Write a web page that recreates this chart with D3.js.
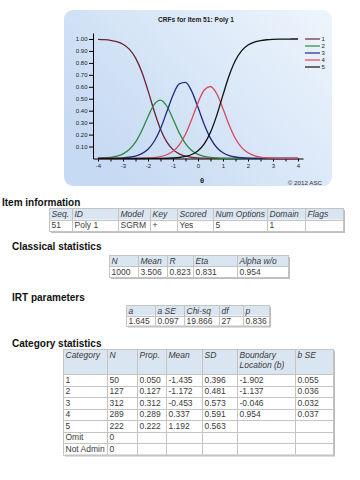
<!DOCTYPE html>
<html>
<head>
<meta charset="utf-8">
<script src="https://cdn.jsdelivr.net/npm/d3@7"></script>
<style>
  body { margin: 0; background: #fff; }
  svg { display: block; font-family: Arial, "Liberation Sans", sans-serif; }
</style>
</head>
<body>
<svg id="chart" width="360" height="480"></svg>
<script>
// ---- chart data ----
var theta = [-4, -3.75, -3.5, -3.25, -3, -2.75, -2.5, -2.25, -2, -1.75, -1.5, -1.25, -1, -0.75, -0.5, -0.25,
             0, 0.25, 0.5, 0.75, 1, 1.25, 1.5, 1.75, 2, 2.25, 2.5, 2.75, 3, 3.25, 3.5, 3.75, 4];
var crf1 = [0.9972, 0.9943, 0.9887, 0.9775, 0.9557, 0.9146, 0.8419, 0.7258, 0.5681, 0.3953, 0.2452, 0.1390, 0.0743, 0.0384, 0.0194, 0.0098,
            0.0049, 0.0024, 0.0012, 0.0006, 0.0003, 0.0001, 0.0001, 0, 0, 0, 0, 0, 0, 0, 0, 0, 0];
var crf2 = [0.0025, 0.0050, 0.0100, 0.0198, 0.0389, 0.0745, 0.1365, 0.2317, 0.3497, 0.4521, 0.4888, 0.4393, 0.3311, 0.2147, 0.1247, 0.0675,
            0.0351, 0.0178, 0.0090, 0.0045, 0.0022, 0.0011, 0.0006, 0.0003, 0.0001, 0, 0, 0, 0, 0, 0, 0, 0];
var crf3 = [0.0003, 0.0006, 0.0013, 0.0026, 0.0052, 0.0104, 0.0206, 0.0405, 0.0779, 0.1442, 0.2491, 0.3883, 0.5297, 0.6244, 0.6365, 0.5616,
            0.4280, 0.2839, 0.1683, 0.0924, 0.0484, 0.0247, 0.0125, 0.0062, 0.0031, 0.0016, 0.0008, 0.0004, 0.0002, 0.0001, 0, 0, 0];
var crf4 = [0, 0, 0.0001, 0.0001, 0.0002, 0.0005, 0.0010, 0.0020, 0.0040, 0.0079, 0.0158, 0.0312, 0.0607, 0.1141, 0.2025, 0.3278,
            0.4672, 0.5734, 0.6022, 0.5414, 0.4170, 0.2781, 0.1654, 0.0909, 0.0477, 0.0244, 0.0123, 0.0061, 0.0031, 0.0015, 0.0008, 0.0004, 0.0002];
var crf5 = [0, 0, 0, 0, 0, 0, 0.0001, 0.0001, 0.0003, 0.0005, 0.0010, 0.0021, 0.0042, 0.0085, 0.0169, 0.0333,
            0.0649, 0.1225, 0.2193, 0.3611, 0.5321, 0.6959, 0.8216, 0.9026, 0.9491, 0.9740, 0.9869, 0.9935, 0.9967, 0.9984, 0.9992, 0.9996, 0.9998];
var categoryNames = ["1", "2", "3", "4", "5"];
var xTicks = [-4, -3.5, -3, -2.5, -2, -1.5, -1, -0.5, 0, 0.5, 1, 1.5, 2, 2.5, 3, 3.5, 4];
var yTicks = [0.1, 0.2, 0.3, 0.4, 0.5, 0.6, 0.7, 0.8, 0.9, 1.0];

// ---- table data ----
var itemHeaders = ["Seq.", "ID", "Model", "Key", "Scored", "Num Options", "Domain", "Flags"];
var itemRow = ["51", "Poly 1", "SGRM", "+", "Yes", "5", "1", ""];
var classicalHeaders = ["N", "Mean", "R", "Eta", "Alpha w/o"];
var classicalRow = ["1000", "3.506", "0.823", "0.831", "0.954"];
var irtHeaders = ["a", "a SE", "Chi-sq", "df", "p"];
var irtRow = ["1.645", "0.097", "19.866", "27", "0.836"];
var catHeaders = ["Category", "N", "Prop.", "Mean", "SD", "Boundary\nLocation (b)", "b SE"];
var catRows = [
  ["1", "50", "0.050", "-1.435", "0.396", "-1.902", "0.055"],
  ["2", "127", "0.127", "-1.172", "0.481", "-1.137", "0.036"],
  ["3", "312", "0.312", "-0.453", "0.573", "-0.046", "0.032"],
  ["4", "289", "0.289", "0.337", "0.591", "0.954", "0.037"],
  ["5", "222", "0.222", "1.192", "0.563", "", ""],
  ["Omit", "0", "", "", "", "", ""],
  ["Not Admin", "0", "", "", "", "", ""]
];

var colors = ["#6e2233", "#2c8a40", "#1f2a7e", "#d8485f", "#111111"];
var series = [crf1, crf2, crf3, crf4, crf5];

var svg = d3.select("#chart");

// panel background
var grad = svg.append("defs").append("linearGradient")
  .attr("id", "panelGrad").attr("x1", "0").attr("y1", "0.6").attr("x2", "1").attr("y2", "0");
grad.append("stop").attr("offset", "0%").attr("stop-color", "#c6daf3");
grad.append("stop").attr("offset", "100%").attr("stop-color", "#eef5fc");
svg.append("rect")
  .attr("x", 64).attr("y", 10).attr("width", 268).attr("height", 176).attr("rx", 9)
  .attr("fill", "url(#panelGrad)");

svg.append("text")
  .attr("x", 196).attr("y", 21.5)
  .attr("text-anchor", "middle")
  .style("font-size", "6.6px").style("font-weight", "bold").style("fill", "#222")
  .text("CRFs for Item 51: Poly 1");

var x = d3.scaleLinear().domain([-4.2, 4.2]).range([93, 303]);
var y = d3.scaleLinear().domain([0, 1.05]).range([158.5, 33]);

var yAxis = svg.append("g")
  .attr("transform", "translate(93,0)")
  .call(d3.axisLeft(y).tickValues(yTicks).tickFormat(d3.format(".2f")).tickSize(4).tickSizeOuter(0).tickPadding(1.5));
var xAxis = svg.append("g")
  .attr("transform", "translate(0,158.5)")
  .call(d3.axisBottom(x).tickValues(xTicks)
    .tickFormat(function(d) { return Number.isInteger(d) ? String(d) : ""; })
    .tickSize(3).tickSizeOuter(0).tickPadding(2));
[xAxis, yAxis].forEach(function(a) {
  a.selectAll("text").style("font-size", "6px").style("fill", "#222").style("font-family", "Arial, 'Liberation Sans', sans-serif");
  a.selectAll("line, path").style("stroke", "#000");
});

// curves
var line = d3.line()
  .x(function(d, i) { return x(theta[i]); })
  .y(function(d) { return y(d); })
  .curve(d3.curveMonotoneX);

svg.selectAll(".crf")
  .data(series)
  .enter().append("path")
  .attr("class", "crf")
  .attr("d", line)
  .attr("fill", "none")
  .attr("stroke", function(d, i) { return colors[i]; })
  .attr("stroke-width", 1.3);

// legend
var legend = svg.selectAll(".legend")
  .data(categoryNames)
  .enter().append("g")
  .attr("class", "legend")
  .attr("transform", function(d, i) { return "translate(305," + (39 + i * 7) + ")"; });
legend.append("line")
  .attr("x1", 0).attr("x2", 15)
  .attr("stroke", function(d, i) { return colors[i]; })
  .attr("stroke-width", 1.2);
legend.append("text")
  .attr("x", 16.5).attr("y", 2.2)
  .style("font-size", "6px").style("fill", "#222")
  .text(function(d) { return d; });

svg.append("text")
  .attr("x", 202).attr("y", 182.5)
  .attr("text-anchor", "middle")
  .style("font-size", "7.5px").style("font-weight", "bold").style("fill", "#222")
  .text("θ");
svg.append("text")
  .attr("x", 322).attr("y", 185)
  .attr("text-anchor", "end")
  .style("font-size", "6.2px").style("fill", "#333")
  .text("© 2012 ASC");

// ---- tables ----
function sectionLabel(text, lx, ly) {
  svg.append("text")
    .attr("x", lx).attr("y", ly)
    .style("font-size", "10px").style("font-weight", "bold").style("fill", "#111")
    .text(text);
}

function drawTable(edges, top, headH, rowH, headers, rows) {
  var g = svg.append("g");
  var left = edges[0], right = edges[edges.length - 1];
  var h = headH + rowH * rows.length;

  g.append("rect")
    .attr("x", left + 2).attr("y", top + 2).attr("width", right - left).attr("height", h)
    .attr("fill", "#bdbdbd");
  g.append("rect")
    .attr("x", left).attr("y", top).attr("width", right - left).attr("height", h)
    .attr("fill", "#fff");
  g.append("rect")
    .attr("x", left).attr("y", top).attr("width", right - left).attr("height", headH)
    .attr("fill", "#dae5f2");

  // grid lines
  var hy = [top, top + headH];
  rows.forEach(function(r, i) { hy.push(top + headH + rowH * (i + 1)); });
  g.selectAll(".hl").data(hy).enter().append("line")
    .attr("x1", left).attr("x2", right)
    .attr("y1", function(d) { return Math.round(d) + 0.5; })
    .attr("y2", function(d) { return Math.round(d) + 0.5; })
    .attr("stroke", "#c4c4c4");
  g.selectAll(".vl").data(edges).enter().append("line")
    .attr("x1", function(d) { return d + 0.5; }).attr("x2", function(d) { return d + 0.5; })
    .attr("y1", top).attr("y2", top + h)
    .attr("stroke", "#c4c4c4");

  // header text
  headers.forEach(function(t, c) {
    var txt = g.append("text")
      .attr("x", edges[c] + 2.5).attr("y", top + 8.6)
      .style("font-size", "8.5px").style("font-style", "italic").style("fill", "#3a3a3a");
    t.split("\n").forEach(function(part, k) {
      txt.append("tspan").attr("x", edges[c] + 2.5).attr("dy", k === 0 ? 0 : 10.8).text(part);
    });
  });
  // body text
  rows.forEach(function(r, i) {
    r.forEach(function(t, c) {
      g.append("text")
        .attr("x", edges[c] + 2.5)
        .attr("y", top + headH + rowH * i + rowH / 2 + 3)
        .style("font-size", "8.5px").style("fill", "#3a3a3a")
        .text(t);
    });
  });
}

sectionLabel("Item information", 2, 206);
drawTable([49, 72, 118, 150, 177, 213, 267, 305, 343], 208, 11.5, 11.5, itemHeaders, [itemRow]);

sectionLabel("Classical statistics", 12, 250);
drawTable([109, 138, 167, 193, 237, 288], 255, 11, 11, classicalHeaders, [classicalRow]);

sectionLabel("IRT parameters", 12, 301);
drawTable([126, 155, 184, 219, 243, 269], 305, 10.5, 10, irtHeaders, [irtRow]);

sectionLabel("Category statistics", 12, 346.5);
drawTable([63, 107, 137, 166, 202, 237, 295, 333], 349, 25, 11.5, catHeaders, catRows);
</script>
</body>
</html>
